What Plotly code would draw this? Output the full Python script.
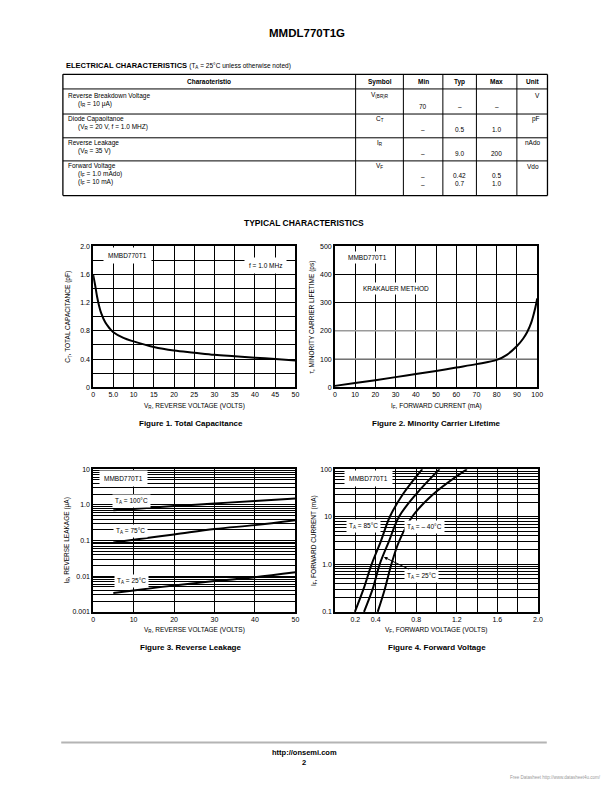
import plotly.graph_objects as go

# page size in px, everything is placed in paper coords
W, H = 612, 792

def px(x):
    return x / W

def py(y):
    return 1 - y / H

# ---- data ----
# Figure 1: total capacitance vs reverse voltage
cap_vr = [0, 0.5, 1, 1.5, 2, 3, 4, 5, 7.5, 10, 15, 20, 25, 30, 35, 40, 45, 50]
cap_pf = [1.60, 1.45, 1.28, 1.15, 1.05, 0.92, 0.84, 0.78, 0.70, 0.65, 0.57, 0.52, 0.49, 0.46, 0.44, 0.42, 0.40, 0.38]

# Figure 2: minority carrier lifetime vs forward current
life_if = [0, 10, 20, 30, 40, 50, 60, 70, 80, 85, 90, 93, 95, 97, 99, 100]
life_ps = [5, 15, 25, 36, 47, 58, 70, 82, 97, 115, 146, 172, 195, 228, 280, 315]

# Figure 3: reverse leakage vs reverse voltage
leak_vr = [5, 10, 20, 30, 40, 50]
leak_100c = [0.71, 0.77, 0.92, 1.09, 1.29, 1.50]
leak_75c = [0.088, 0.105, 0.147, 0.21, 0.27, 0.37]
leak_25c = [0.0034, 0.0040, 0.0055, 0.0073, 0.0094, 0.0129]

# Figure 4: forward current vs forward voltage
fwd_if = [0.1, 0.3, 1, 3, 10, 30, 100]
fwd_85c = [0.195, 0.28, 0.36, 0.45, 0.54, 0.67, 0.86]
fwd_25c = [0.285, 0.37, 0.44, 0.53, 0.63, 0.80, 1.03]
fwd_m40c = [0.42, 0.49, 0.555, 0.63, 0.76, 0.97, 1.30]

# tick labels (major = labelled, minor = grid only)
f1_xticks = [0, 5, 10, 15, 20, 25, 30, 35, 40, 45, 50]
f1_xtext = ['0', '5.0', '10', '15', '20', '25', '30', '35', '40', '45', '50']
f1_yticks = [0, 0.4, 0.8, 1.2, 1.6, 2.0]
f1_ytext = ['0', '0.4', '0.8', '1.2', '1.6', '2.0']
f1_yminor = [0.2, 0.6, 1.0, 1.4, 1.8]
f2_xticks = [0, 10, 20, 30, 40, 50, 60, 70, 80, 90, 100]
f2_yticks = [0, 100, 200, 300, 400, 500]
f3_xticks = [0, 10, 20, 30, 40, 50]
f3_decades = [0.001, 0.01, 0.1, 1.0, 10]
f3_dectext = ['0.001', '0.01', '0.1', '1.0', '10']
f4_xticks = [0.2, 0.4, 0.8, 1.2, 1.6, 2.0]
f4_xtext = ['0.2', '0.4', '0.8', '1.2', '1.6', '2.0']
f4_xminor = [0, 0.6, 1.0, 1.4, 1.8]
f4_decades = [0.1, 1.0, 10, 100]
f4_dectext = ['0.1', '1.0', '10', '100']


def log_minor(decades):
    return [d * m for d in decades[:-1] for m in range(2, 10)]


FONT = 'Liberation Sans Narrow, Arial Narrow, Liberation Sans, Arial'
FONT_W = 'Liberation Sans, Arial'
line = dict(color='black', width=2)

fig = go.Figure()
fig.add_trace(go.Scatter(x=cap_vr, y=cap_pf, mode='lines', line_shape='spline', line=line, xaxis='x', yaxis='y'))
fig.add_trace(go.Scatter(x=life_if, y=life_ps, mode='lines', line_shape='spline', line=line, xaxis='x2', yaxis='y2'))
for ys in [leak_100c, leak_75c, leak_25c]:
    fig.add_trace(go.Scatter(x=leak_vr, y=ys, mode='lines', line_shape='spline', line=line, xaxis='x3', yaxis='y3'))
for xs in [fwd_85c, fwd_25c, fwd_m40c]:
    fig.add_trace(go.Scatter(x=xs, y=fwd_if, mode='lines', line_shape='spline', line=line, xaxis='x4', yaxis='y4'))


def ax(domain, anchor, minor_vals=None, **kw):
    d = dict(domain=domain, anchor=anchor, showgrid=True, gridcolor='black', gridwidth=1,
             showline=True, mirror=True, linecolor='black', linewidth=1.5,
             zeroline=False, ticks='', tickmode='array',
             tickfont=dict(family=FONT, size=7, color='black'), fixedrange=True)
    if minor_vals:
        d['minor'] = dict(tickmode='array', tickvals=minor_vals, showgrid=True,
                          gridcolor='black', gridwidth=1, ticks='')
    d.update(kw)
    return d


fig.update_layout(
    width=W, height=H,
    margin=dict(l=0, r=0, t=0, b=0),
    paper_bgcolor='white', plot_bgcolor='white',
    font=dict(family=FONT_W, size=7, color='black'),
    showlegend=False,
    xaxis=ax([px(92.3), px(297.3)], 'y', range=[0, 50], tickvals=f1_xticks, ticktext=f1_xtext),
    yaxis=ax([py(386.7), py(244.3)], 'x', f1_yminor, range=[0, 2.0], tickvals=f1_yticks, ticktext=f1_ytext),
    xaxis2=ax([px(337.3), px(542.3)], 'y2', range=[0, 100], tickvals=f2_xticks),
    yaxis2=ax([py(386.7), py(244.3)], 'x2', range=[0, 500], tickvals=f2_yticks),
    xaxis3=ax([px(92.3), px(297.3)], 'y3', range=[0, 50], tickvals=f3_xticks),
    yaxis3=ax([py(613.3), py(469.3)], 'x3', log_minor(f3_decades), type='log', range=[-3, 1],
              tickvals=f3_decades, ticktext=f3_dectext),
    xaxis4=ax([px(337.5), px(543)], 'y4', f4_xminor, range=[0, 2.0], tickvals=f4_xticks, ticktext=f4_xtext),
    yaxis4=ax([py(613.3), py(469.3)], 'x4', log_minor(f4_decades), type='log', range=[-1, 2],
              tickvals=f4_decades, ticktext=f4_dectext),
)

shapes = []
# grey grid lines at 100 and 200 in figure 2
for yv in [100, 200]:
    shapes.append(dict(type='line', xref='x2', yref='y2', x0=0, x1=100, y0=yv, y1=yv,
                       line=dict(color='#9a9a9a', width=1.5), layer='between'))

# electrical characteristics table
tl, tr = 61.7, 552.7
rows_y = [71, 85.7, 111, 135, 158.3, 193.3]
cols_x = [358.3, 406.7, 446.7, 480.7, 521.7]
for i, yv in enumerate(rows_y):
    w = 1.3 if i in (0, len(rows_y) - 1) else 1
    shapes.append(dict(type='line', xref='paper', yref='paper', x0=px(tl), x1=px(tr),
                       y0=py(yv), y1=py(yv), line=dict(color='black', width=w)))
for xv in [tl, tr]:
    shapes.append(dict(type='line', xref='paper', yref='paper', x0=px(xv), x1=px(xv),
                       y0=py(rows_y[0]), y1=py(rows_y[-1]), line=dict(color='black', width=1.3)))
for xv in cols_x:
    shapes.append(dict(type='line', xref='paper', yref='paper', x0=px(xv), x1=px(xv),
                       y0=py(rows_y[0]), y1=py(rows_y[-1]), line=dict(color='black', width=1)))
# footer rule
shapes.append(dict(type='line', xref='paper', yref='paper', x0=px(60), x1=px(552),
                   y0=py(745), y1=py(745), line=dict(color='#b4b4b4', width=2)))
fig.update_layout(shapes=shapes)

notes = []


def note(text, x, y, size=6.5, xanchor='center', family=FONT_W, color='black', box=False, angle=0, **kw):
    a = dict(text=text, x=px(x), y=py(y), xref='paper', yref='paper', showarrow=False,
             xanchor=xanchor, yanchor='middle', textangle=angle,
             font=dict(family=family, size=size, color=color))
    if box:
        a.update(bgcolor='white', borderpad=3)
    a.update(kw)
    notes.append(a)


# page title and headers
note('<b>MMDL770T1G</b>', 309.5, 29, size=11.5)
note('<b>ELECTRICAL CHARACTERISTICS</b> <span style="font-size:6.5px">(T<sub>A</sub> = 25°C unless otherwise noted)</span>',
     63, 62, size=7.5, xanchor='left')

# table header
hy = 78.3
note('<b>Charaoteristio</b>', 210, hy)
note('<b>Symbol</b>', 382.5, hy)
note('<b>Min</b>', 426.7, hy)
note('<b>Typ</b>', 463.7, hy)
note('<b>Max</b>', 501.2, hy)
note('<b>Unit</b>', 537.2, hy)

# table body
note('Reverse Breakdown Voltage', 65, 92.5, xanchor='left')
note('(I<sub>R</sub> = 10 μA)', 75, 100.5, xanchor='left')
note('V<sub>(BR)R</sub>', 382.5, 92)
note('70', 426.7, 103)
note('–', 463.7, 103)
note('–', 501.2, 103)
note('V', 542.5, 92)

note('Diode Capaoitanoe', 65, 116.5, xanchor='left')
note('(V<sub>R</sub> = 20 V, f = 1.0 MHZ)', 75, 124.5, xanchor='left')
note('C<sub>T</sub>', 382.5, 116)
note('–', 426.7, 127)
note('0.5', 463.7, 127)
note('1.0', 501.2, 127)
note('pF', 541, 116)

note('Reverse Leakage', 65, 140, xanchor='left')
note('(V<sub>R</sub> = 35 V)', 75, 148, xanchor='left')
note('I<sub>R</sub>', 382.5, 140)
note('–', 426.7, 150.5)
note('9.0', 463.7, 150.5)
note('200', 501.2, 150.5)
note('nAdo', 538, 140)

note('Forward Voltage', 65, 163.5, xanchor='left')
note('(I<sub>F</sub> = 1.0 mAdo)', 75, 171.5, xanchor='left')
note('(I<sub>F</sub> = 10 mA)', 75, 179.5, xanchor='left')
note('V<sub>F</sub>', 382.5, 163.5)
note('–', 426.7, 174)
note('–', 426.7, 182)
note('0.42', 463.7, 173.5)
note('0.7', 463.7, 181.5)
note('0.5', 501.2, 173.5)
note('1.0', 501.2, 181.5)
note('Vdo', 538, 163.5)

note('<b>TYPICAL CHARACTERISTICS</b>', 306, 221, size=8.5)

# figure 1 labels
note('MMBD770T1', 127, 254, family=FONT, box=True, borderpad=4)
note('f = 1.0 MHz', 267, 263.5, family=FONT, box=True, borderpad=4)
note('C<sub>T</sub>, TOTAL CAPACITANCE (pF)', 67, 315.5, family=FONT, angle=-90)
note('V<sub>R</sub>, REVERSE VOLTAGE (VOLTS)', 195, 406, family=FONT)
note('<b>Figure 1. Total Capacitance</b>', 192, 423, size=8)

# figure 2 labels
note('MMBD770T1', 370.5, 255.5, family=FONT, box=True, borderpad=2)
note('KRAKAUER METHOD', 399, 287, family=FONT, box=True, borderpad=2)
note('τ, MINORITY CARRIER LIFETIME (ps)', 314, 315.5, family=FONT, angle=-90)
note('I<sub>F</sub>, FORWARD CURRENT (mA)', 440, 406, family=FONT)
note('<b>Figure 2. Minority Carrier Lifetime</b>', 440, 423, size=8)

# figure 3 labels
note('MMBD770T1', 123.5, 479, family=FONT, box=True, borderpad=4)
note('T<sub>A</sub> = 100°C', 131.5, 501.5, family=FONT, box=True, borderpad=2)
note('T<sub>A</sub> = 75°C', 130, 532, family=FONT, box=True, borderpad=2)
note('T<sub>A</sub> = 25°C', 131, 582.5, family=FONT, box=True, borderpad=2)
note('I<sub>R</sub>, REVERSE LEAKAGE (μA)', 66, 541, family=FONT, angle=-90)
note('V<sub>R</sub>, REVERSE VOLTAGE (VOLTS)', 195, 632, family=FONT)
note('<b>Figure 3. Reverse Leakage</b>', 191, 649, size=8)

# figure 4 labels
note('MMBD770T1', 371.5, 478.5, family=FONT, box=True, borderpad=4)
note('T<sub>A</sub> = 85°C', 366.5, 526.5, family=FONT, box=True, borderpad=2)
note('T<sub>A</sub> = – 40°C', 428.5, 528, family=FONT, box=True, borderpad=2)
notes.append(dict(text='T<sub>A</sub> = 25°C', xref='paper', yref='paper', x=px(387), y=py(558),
                  ax=38, ay=18.5, showarrow=True, arrowhead=2, arrowsize=0.7, arrowwidth=1,
                  arrowcolor='black', bgcolor='white', borderpad=2,
                  font=dict(family=FONT, size=6.5, color='black')))
note('I<sub>F</sub>, FORWARD CURRENT (mA)', 316, 541, family=FONT, angle=-90)
note('V<sub>F</sub>, FORWARD VOLTAGE (VOLTS)', 440, 632, family=FONT)
note('<b>Figure 4. Forward Voltage</b>', 441, 649, size=8)

# footer
note('<b>http://onsemi.com</b>', 306, 755, size=7.5)
note('<b>2</b>', 306, 765, size=7.5)
note('Free Datasheet http://www.datasheet4u.com/', 609, 780, size=4.5, xanchor='right', color='#9a9a9a')

fig.update_layout(annotations=notes)

# page body has a default 8px margin, drop it so the figure sits at 0,0
fig.write_html("out.html", config={'displayModeBar': False},
               post_script="document.body.style.margin='0';")
